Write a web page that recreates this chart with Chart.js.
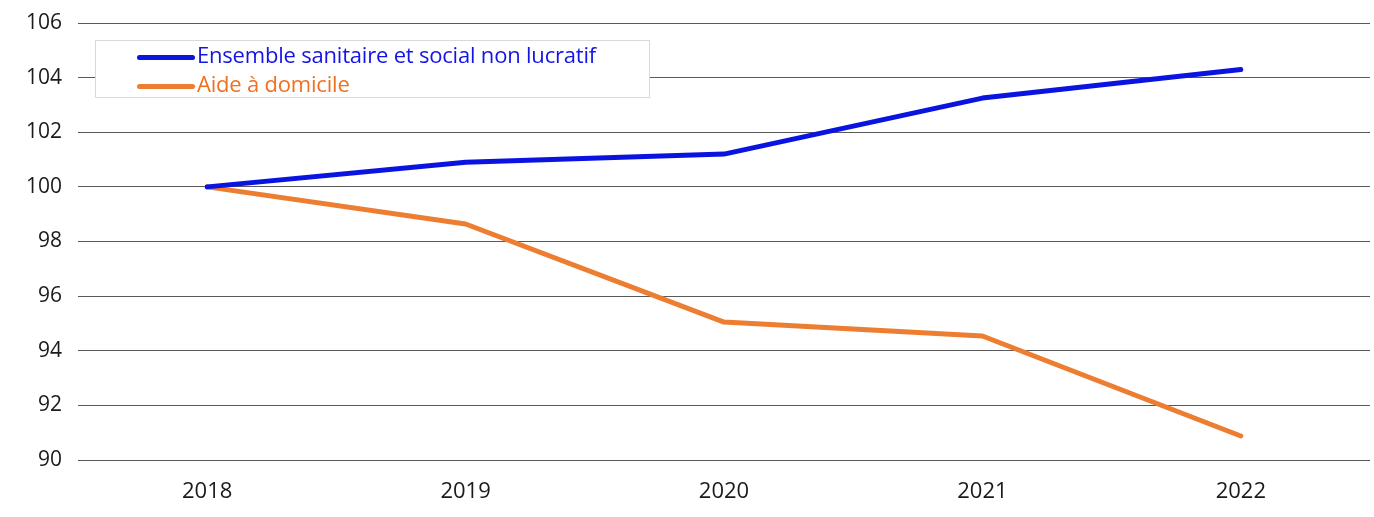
<!DOCTYPE html>
<html>
<head>
<meta charset="utf-8">
<script src="https://cdn.jsdelivr.net/npm/chart.js@4"></script>
<style>
  body { margin: 0; background: #fff; }
  #wrap { position: relative; width: 1374px; height: 517px; }
  #legend {
    position: absolute; left: 95px; top: 40px; width: 555px; height: 58px;
    border: 1px solid #d9d9d9; background: #fff; box-sizing: border-box;
    font-family: "Open Sans", sans-serif; font-size: 22px;
  }
  .item { position: absolute; left: 41px; height: 30px; line-height: 30px; white-space: nowrap; letter-spacing: -0.2px; }
  .item span.sw { display: inline-block; width: 58px; height: 5px; border-radius: 3px; vertical-align: middle; margin-right: 2px; }
</style>
</head>
<body>
<div id="wrap">
  <canvas id="chart" width="1374" height="517"></canvas>
  <div id="legend"></div>
</div>
<script>
const years = ["2018", "2019", "2020", "2021", "2022"];
const ensemble = [100, 100.9, 101.2, 103.25, 104.3];
const aide = [100, 98.64, 95.05, 94.54, 90.88];

const series = [
  { label: "Ensemble sanitaire et social non lucratif", data: ensemble, color: "#0a14e0", text: "#1414e6" },
  { label: "Aide à domicile", data: aide, color: "#ed7d31", text: "#f07020" }
];

document.addEventListener("DOMContentLoaded", () => {
  const legend = document.getElementById("legend");
  series.forEach((s, i) => {
    const d = document.createElement("div");
    d.className = "item";
    d.style.top = (-2 + i * 29) + "px";
    d.style.color = s.text;
    d.innerHTML = '<span class="sw" style="background:' + s.color + '"></span>' + s.label;
    legend.appendChild(d);
  });

  new Chart(document.getElementById("chart"), {
    type: "line",
    data: {
      labels: years,
      datasets: series.map(s => ({
        label: s.label,
        data: s.data,
        borderColor: s.color,
        borderWidth: 5,
        borderCapStyle: "round",
        borderJoinStyle: "round",
        pointRadius: 0,
        fill: false,
        tension: 0
      }))
    },
    options: {
      responsive: false,
      animation: false,
      layout: { padding: { left: 0, right: 4, top: 23, bottom: 0 } },
      plugins: { legend: { display: false }, tooltip: { enabled: false } },
      scales: {
        x: {
          offset: true,
          grid: { display: false, drawTicks: false },
          border: { display: false },
          ticks: { color: "#1a1a1a", font: { family: "Open Sans", size: 22 }, padding: 19 },
          afterFit: s => { s.height = 57; s.paddingLeft = 0; s.paddingRight = 0; }
        },
        y: {
          min: 90,
          max: 106,
          grid: { color: "#5a5a5a", lineWidth: 1, drawTicks: false },
          border: { display: false },
          ticks: { stepSize: 2, color: "#1a1a1a", font: { family: "Open Sans", size: 21 }, padding: 16 },
          afterFit: s => { s.width = 78; s.paddingTop = 0; s.paddingBottom = 0; }
        }
      }
    }
  });
});
</script>
</body>
</html>
